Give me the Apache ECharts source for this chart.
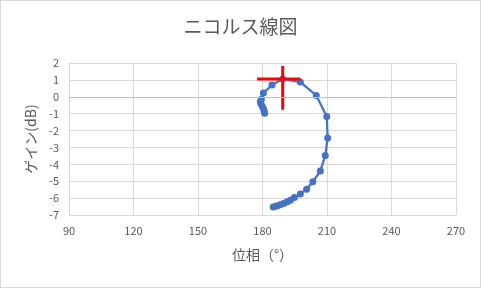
<!DOCTYPE html>
<html><head><meta charset="utf-8">
<script src="https://cdn.jsdelivr.net/npm/echarts@6/dist/echarts.min.js"></script>
<style>
html,body{margin:0;padding:0;background:#fff;}
#c{width:481px;height:288px;box-sizing:border-box;border:1px solid #d9d9d9;}
</style></head>
<body><div id="c"></div>
<script>
// Nichols curve: phase (deg) and gain (dB)
const phase = [181.0,180.8,180.4,179.8,179.2,179.0,179.5,180.4,184.4,189.4,197.6,205.0,209.9,210.3,209.2,206.9,203.4,200.5,197.6,194.8,193.0,191.5,190.0,188.5,187.0,185.8,185.0];
const gain  = [-0.98,-0.85,-0.70,-0.55,-0.40,-0.28,-0.15,0.22,0.70,1.06,0.87,0.08,-1.17,-2.44,-3.48,-4.40,-5.03,-5.47,-5.76,-5.96,-6.12,-6.22,-6.30,-6.38,-6.45,-6.50,-6.53];
// red cross (error bars at peak)
const crossH = [[177.5,1.06],[197.6,1.06]];
const crossV = [[189.4,1.82],[189.4,-0.77]];
const xTicks = {min:90,max:270,interval:30};
const yTicks = {min:-7,max:2,interval:1};
const titleText = 'ニコルス線図';
const xName = '位相（°）';
const yName = 'ゲイン(dB)';

const font = '"Noto Sans CJK JP","Noto Sans",sans-serif';
const chart = echarts.init(document.getElementById('c'));
const pts = phase.map((p,i)=>[p,gain[i]]);
chart.setOption({
  animation:false,
  title:{text:titleText,left:'center',top:11,textStyle:{fontFamily:font,fontSize:19,fontWeight:'normal',color:'#595959'}},
  grid:{left:68,right:24,top:62,bottom:72},
  xAxis:{type:'value',min:xTicks.min,max:xTicks.max,interval:xTicks.interval,
    name:xName,nameLocation:'middle',nameGap:33,
    nameTextStyle:{fontFamily:font,fontSize:14,color:'#595959'},
    axisLine:{show:false},axisTick:{show:false},
    axisLabel:{fontFamily:font,fontSize:11,color:'#595959',margin:10},
    splitLine:{show:true,lineStyle:{color:'#d9d9d9',width:1}}},
  yAxis:{type:'value',min:yTicks.min,max:yTicks.max,interval:yTicks.interval,
    name:yName,nameLocation:'middle',nameGap:30,nameRotate:90,
    nameTextStyle:{fontFamily:font,fontSize:14,color:'#595959'},
    axisLine:{show:true,lineStyle:{color:'#d9d9d9'}},axisTick:{show:false},
    axisLabel:{fontFamily:font,fontSize:11,color:'#595959',margin:10},
    splitLine:{show:true,lineStyle:{color:'#d9d9d9',width:1}}},
  series:[
    {type:'line',data:pts,symbol:'circle',symbolSize:7,showSymbol:true,
     lineStyle:{color:'#4472C4',width:2.25},itemStyle:{color:'#4472C4'},z:3,
     markLine:{silent:true,symbol:'none',label:{show:false},
       lineStyle:{color:'#bfbfbf',width:1,type:'solid'},data:[{yAxis:0}]}},
    {type:'line',data:crossH,symbol:'none',lineStyle:{color:'#ff0000',width:3},z:4},
    {type:'line',data:crossV,symbol:'none',lineStyle:{color:'#ff0000',width:3},z:4}
  ]
});
</script></body></html>
